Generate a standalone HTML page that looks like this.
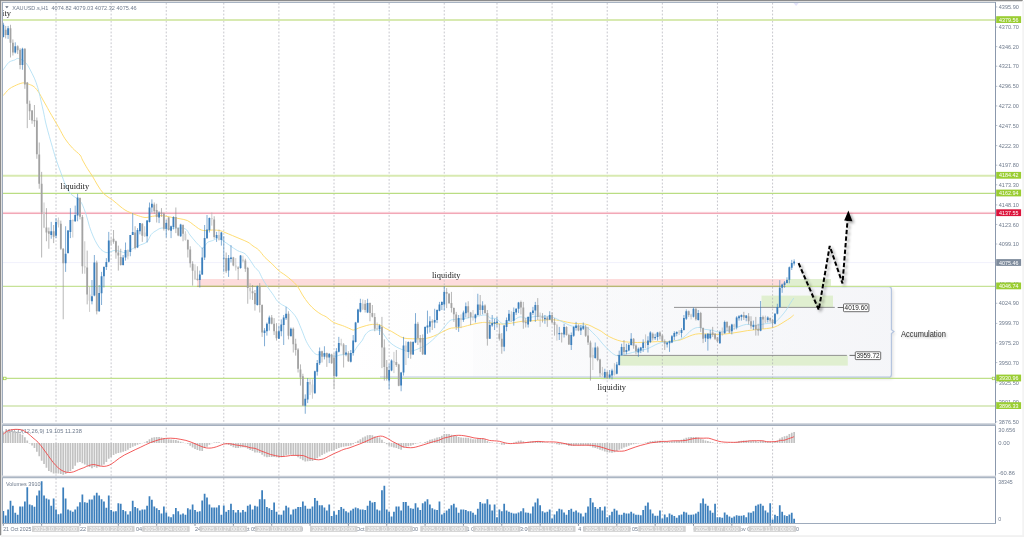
<!DOCTYPE html>
<html lang="en">
<head>
<meta charset="utf-8">
<title>XAUUSD.s H1 chart</title>
<style>
html,body{margin:0;padding:0;background:#ffffff;}
body{width:1024px;height:537px;overflow:hidden;font-family:'Liberation Sans',sans-serif;}
svg{display:block;}
text{white-space:pre;}
</style>
</head>
<body>
<svg width="1024" height="537" viewBox="0 0 1024 537" style="display:block">
<defs>
<linearGradient id="acc" gradientUnits="userSpaceOnUse" x1="340" x2="892" y1="0" y2="0"><stop offset="0" stop-color="#f5f6f9" stop-opacity="0"/><stop offset="0.3" stop-color="#f5f6f9" stop-opacity="0.2"/><stop offset="1" stop-color="#f5f6fa" stop-opacity="0.5"/></linearGradient>
<linearGradient id="acc2" gradientUnits="userSpaceOnUse" x1="473" x2="892" y1="0" y2="0"><stop offset="0" stop-color="#f6f7f9" stop-opacity="0.3"/><stop offset="1" stop-color="#f4f5f8" stop-opacity="0.9"/></linearGradient>
<linearGradient id="accs" gradientUnits="userSpaceOnUse" x1="340" x2="892" y1="0" y2="0"><stop offset="0" stop-color="#b9c9e2" stop-opacity="0"/><stop offset="0.45" stop-color="#b9c9e2" stop-opacity="0.25"/><stop offset="0.9" stop-color="#b9c9e2" stop-opacity="0.9"/><stop offset="1" stop-color="#b4c4df" stop-opacity="1"/></linearGradient>
<linearGradient id="sep" x1="0" x2="0" y1="0" y2="1"><stop offset="0" stop-color="#dfe2e7"/><stop offset="1" stop-color="#98a5b6"/></linearGradient>
<filter id="sh" x="-20%" y="-20%" width="150%" height="150%"><feGaussianBlur in="SourceAlpha" stdDeviation="1.6"/><feOffset dx="1.8" dy="1.8"/><feComponentTransfer><feFuncA type="linear" slope="0.38"/></feComponentTransfer><feMerge><feMergeNode/><feMergeNode in="SourceGraphic"/></feMerge></filter>
<filter id="sh2" x="-20%" y="-50%" width="150%" height="220%"><feGaussianBlur in="SourceAlpha" stdDeviation="0.9"/><feOffset dx="0.9" dy="0.9"/><feComponentTransfer><feFuncA type="linear" slope="0.3"/></feComponentTransfer><feMerge><feMergeNode/><feMergeNode in="SourceGraphic"/></feMerge></filter>
<filter id="sh3" x="-5%" y="-10%" width="112%" height="125%"><feGaussianBlur in="SourceAlpha" stdDeviation="1.5"/><feOffset dx="1.6" dy="1.6"/><feComponentTransfer><feFuncA type="linear" slope="0.11"/></feComponentTransfer></filter>
<clipPath id="main"><rect x="3" y="3" width="992" height="421"/></clipPath>
</defs>
<rect width="1024" height="537" fill="#ffffff"/>
<g id="frame">
<rect x="0" y="0" width="1022.7" height="0.95" fill="#808080"/>
<rect x="0" y="0" width="0.95" height="535.3" fill="#808080"/>
<rect x="0.95" y="0.95" width="1.1" height="534" fill="#e0e0e0"/>
<rect x="0.95" y="0.95" width="1021.5" height="1.1" fill="#dedede"/>
<rect x="1022.3" y="1" width="1.7" height="536" fill="#f3f3f3"/>
<rect x="1" y="535.2" width="1023" height="1.8" fill="#f1f1f1"/>
</g>
<g id="zones" clip-path="url(#main)">
<path d="M 600 286.6 H 888.6 Q 891.4 286.6 891.4 289.4 V 329.7 L 893.9 331.6 L 891.4 333.5 V 374.5 Q 891.4 377.3 888.6 377.3 H 600 Z" fill="#000" filter="url(#sh3)"/>
<path d="M 600 286.6 H 888.6 Q 891.4 286.6 891.4 289.4 V 329.7 L 893.9 331.6 L 891.4 333.5 V 374.5 Q 891.4 377.3 888.6 377.3 H 600 Z" fill="#ffffff"/>
<path d="M 340 286.6 H 888.6 Q 891.4 286.6 891.4 289.4 V 329.7 L 893.9 331.6 L 891.4 333.5 V 374.5 Q 891.4 377.3 888.6 377.3 H 340 Z" fill="url(#acc)"/>
<path d="M 473 286.6 H 888.6 Q 891.4 286.6 891.4 289.4 V 329.7 L 893.9 331.6 L 891.4 333.5 V 374.5 Q 891.4 377.3 888.6 377.3 H 473 Z" fill="url(#acc2)"/>
<path d="M 340 286.6 H 888.6 Q 891.4 286.6 891.4 289.4 V 329.7 L 893.9 331.6 L 891.4 333.5 V 374.5 Q 891.4 377.3 888.6 377.3 H 340" fill="none" stroke="url(#accs)" stroke-width="1.2"/>
<line x1="380" y1="377" x2="889" y2="377" stroke="#c9d4e9" stroke-width="1.3" stroke-opacity="0.85"/>
<rect x="197.1" y="279" width="588.5" height="8.1" fill="#fddcdc"/>
<rect x="786.2" y="279" width="44.8" height="7.2" fill="#e0efd0"/>
<rect x="761.5" y="295.6" width="71.5" height="11.5" fill="#e0efd0"/>
<rect x="620" y="355.6" width="227.8" height="10" fill="#e0efd0"/>
</g>
<g id="vgrid" stroke="#a4a4ad" stroke-width="0.62" stroke-dasharray="1.8 1.7965" fill="none">
<line x1="56.02" y1="2.8" x2="56.02" y2="423"/>
<line x1="56.02" y1="427.6" x2="56.02" y2="476"/>
<line x1="56.02" y1="478" x2="56.02" y2="522.5"/>
<line x1="111.14" y1="2.8" x2="111.14" y2="423"/>
<line x1="111.14" y1="427.6" x2="111.14" y2="476"/>
<line x1="111.14" y1="478" x2="111.14" y2="522.5"/>
<line x1="166.26" y1="2.8" x2="166.26" y2="423"/>
<line x1="166.26" y1="427.6" x2="166.26" y2="476"/>
<line x1="166.26" y1="478" x2="166.26" y2="522.5"/>
<line x1="223.78" y1="2.8" x2="223.78" y2="423"/>
<line x1="223.78" y1="427.6" x2="223.78" y2="476"/>
<line x1="223.78" y1="478" x2="223.78" y2="522.5"/>
<line x1="278.9" y1="2.8" x2="278.9" y2="423"/>
<line x1="278.9" y1="427.6" x2="278.9" y2="476"/>
<line x1="278.9" y1="478" x2="278.9" y2="522.5"/>
<line x1="334.02" y1="2.8" x2="334.02" y2="423"/>
<line x1="334.02" y1="427.6" x2="334.02" y2="476"/>
<line x1="334.02" y1="478" x2="334.02" y2="522.5"/>
<line x1="389.14" y1="2.8" x2="389.14" y2="423"/>
<line x1="389.14" y1="427.6" x2="389.14" y2="476"/>
<line x1="389.14" y1="478" x2="389.14" y2="522.5"/>
<line x1="444.26" y1="2.8" x2="444.26" y2="423"/>
<line x1="444.26" y1="427.6" x2="444.26" y2="476"/>
<line x1="444.26" y1="478" x2="444.26" y2="522.5"/>
<line x1="496.98" y1="2.8" x2="496.98" y2="423"/>
<line x1="496.98" y1="427.6" x2="496.98" y2="476"/>
<line x1="496.98" y1="478" x2="496.98" y2="522.5"/>
<line x1="552.1" y1="2.8" x2="552.1" y2="423"/>
<line x1="552.1" y1="427.6" x2="552.1" y2="476"/>
<line x1="552.1" y1="478" x2="552.1" y2="522.5"/>
<line x1="607.22" y1="2.8" x2="607.22" y2="423"/>
<line x1="607.22" y1="427.6" x2="607.22" y2="476"/>
<line x1="607.22" y1="478" x2="607.22" y2="522.5"/>
<line x1="662.34" y1="2.8" x2="662.34" y2="423"/>
<line x1="662.34" y1="427.6" x2="662.34" y2="476"/>
<line x1="662.34" y1="478" x2="662.34" y2="522.5"/>
<line x1="717.46" y1="2.8" x2="717.46" y2="423"/>
<line x1="717.46" y1="427.6" x2="717.46" y2="476"/>
<line x1="717.46" y1="478" x2="717.46" y2="522.5"/>
<line x1="772.58" y1="2.8" x2="772.58" y2="423"/>
<line x1="772.58" y1="427.6" x2="772.58" y2="476"/>
<line x1="772.58" y1="478" x2="772.58" y2="522.5"/>
</g>
<g id="hlines" fill="none">
<line x1="3" y1="262.6" x2="995" y2="262.6" stroke="#ececfa" stroke-width="0.8"/>
<line x1="3" y1="20.05" x2="995" y2="20.05" stroke="#d8eab1" stroke-width="2.0"/>
<line x1="3" y1="175.75" x2="995" y2="175.75" stroke="#d8eab1" stroke-width="2.0"/>
<line x1="3" y1="193.4" x2="995" y2="193.4" stroke="#badd83" stroke-width="1.2"/>
<line x1="3" y1="286.3" x2="995" y2="286.3" stroke="#c6e297" stroke-width="1.25"/>
<line x1="3" y1="378.4" x2="995" y2="378.4" stroke="#bfe08a" stroke-width="1.1"/>
<line x1="3" y1="406.05" x2="995" y2="406.05" stroke="#dcebc3" stroke-width="1.9"/>
<rect x="3" y="211.85" width="992" height="1" fill="#f9d3da"/>
<rect x="3" y="212.8" width="992" height="1.25" fill="#f2a8b7"/>
<line x1="197.1" y1="286.3" x2="785.6" y2="286.3" stroke="#b9b774" stroke-width="1.2"/>
<rect x="3.5" y="377.2" width="2.5" height="2.5" fill="#ffffff" stroke="#a4d247" stroke-width="0.8"/>
<rect x="992.3" y="377.2" width="2.5" height="2.5" fill="#ffffff" stroke="#a4d247" stroke-width="0.8"/>
<line x1="674" y1="307.4" x2="834.8" y2="307.4" stroke="#7a7a7a" stroke-width="0.8"/>
<line x1="616.9" y1="355.4" x2="846.9" y2="355.4" stroke="#7a7a7a" stroke-width="0.8"/>
<line x1="837.7" y1="307.5" x2="843.6" y2="307.5" stroke="#444" stroke-width="0.8"/>
<line x1="849.5" y1="355.4" x2="855.4" y2="355.4" stroke="#444" stroke-width="0.8"/>
</g>
<g id="ma" fill="none" stroke-linejoin="round" clip-path="url(#main)">
<path d="M 3.2 95.6 C 4.13 94.55 6.9 90.92 8.8 89.3 C 10.7 87.68 12.25 86.97 14.6 85.9 C 16.95 84.83 20.45 83.15 22.9 82.9 C 25.35 82.65 27.42 83.73 29.3 84.4 C 31.18 85.07 32.58 85.52 34.2 86.9 C 35.82 88.28 37.53 90.52 39 92.7 C 40.47 94.88 41.77 97.8 43 100 C 44.23 102.2 45.23 103.82 46.4 105.9 C 47.57 107.98 47.94 108.9 50 112.5 C 52.06 116.1 56.25 123.12 58.75 127.5 C 61.25 131.88 62.71 135.32 65 138.75 C 67.29 142.18 70 145.39 72.5 148.1 C 75 150.81 78.33 153.02 80 155 C 81.67 156.98 81.25 157.71 82.5 160 C 83.75 162.29 85.83 166.04 87.5 168.75 C 89.17 171.46 90.83 173.54 92.5 176.25 C 94.17 178.96 95.62 182.08 97.5 185 C 99.38 187.92 101.25 191.25 103.75 193.75 C 106.25 196.25 109.79 197.92 112.5 200 C 115.21 202.08 117.92 204.58 120 206.25 C 122.08 207.92 123.33 208.96 125 210 C 126.67 211.04 128.12 211.67 130 212.5 C 131.88 213.33 133.75 214.17 136.25 215 C 138.75 215.83 142.29 217.29 145 217.5 C 147.71 217.71 150 216.57 152.5 216.25 C 155 215.93 157.71 215.6 160 215.6 C 162.29 215.6 164.17 215.93 166.25 216.25 C 168.33 216.57 170.21 217.08 172.5 217.5 C 174.79 217.92 177.5 218.23 180 218.75 C 182.5 219.27 185.21 219.56 187.5 220.6 C 189.79 221.64 191.67 223.53 193.75 225 C 195.83 226.47 198.12 228.47 200 229.4 C 201.88 230.33 202.92 230.5 205 230.6 C 207.08 230.7 210 230 212.5 230 C 215 230 217.92 230.18 220 230.6 C 222.08 231.02 222.92 231.67 225 232.5 C 227.08 233.33 230 234.56 232.5 235.6 C 235 236.64 237.42 237.64 240 238.75 C 242.58 239.86 245.83 241.04 248 242.25 C 250.17 243.46 251.21 244.71 253 246 C 254.79 247.29 256.75 248.08 258.75 250 C 260.75 251.92 262.92 255.32 265 257.5 C 267.08 259.68 268.96 260.92 271.25 263.1 C 273.54 265.28 276.46 268.62 278.75 270.6 C 281.04 272.58 282.92 273.43 285 275 C 287.08 276.57 289.17 278.12 291.25 280 C 293.33 281.88 295.62 283.75 297.5 286.25 C 299.38 288.75 300.62 292.08 302.5 295 C 304.38 297.92 306.67 301.25 308.75 303.75 C 310.83 306.25 312.92 308.23 315 310 C 317.08 311.77 319.38 313.25 321.25 314.4 C 323.12 315.55 324.17 315.55 326.25 316.9 C 328.33 318.25 331.04 321.05 333.75 322.5 C 336.46 323.95 339.79 324.56 342.5 325.6 C 345.21 326.64 348.12 328.02 350 328.75 C 351.88 329.48 352.08 330.21 353.75 330 C 355.42 329.79 357.92 328.23 360 327.5 C 362.08 326.77 364.17 326.12 366.25 325.6 C 368.33 325.08 370.21 324.5 372.5 324.4 C 374.79 324.3 377.92 324.38 380 325 C 382.08 325.62 383.12 327.06 385 328.1 C 386.88 329.14 389.17 330.1 391.25 331.25 C 393.33 332.4 395.42 333.86 397.5 335 C 399.58 336.14 401.25 337.48 403.75 338.1 C 406.25 338.73 409.38 338.64 412.5 338.75 C 415.62 338.86 419.58 338.96 422.5 338.75 C 425.42 338.54 427.5 338.23 430 337.5 C 432.5 336.77 435 335.55 437.5 334.4 C 440 333.25 442.71 331.65 445 330.6 C 447.29 329.55 448.75 328.62 451.25 328.1 C 453.75 327.58 457.29 327.92 460 327.5 C 462.71 327.08 465 326.23 467.5 325.6 C 470 324.98 472.5 324.27 475 323.75 C 477.5 323.23 480.62 322.71 482.5 322.5 C 484.38 322.29 484.58 322.4 486.25 322.5 C 487.92 322.6 490.21 322.85 492.5 323.1 C 494.79 323.35 497.5 323.89 500 324 C 502.5 324.11 505 324 507.5 323.75 C 510 323.5 512.5 322.92 515 322.5 C 517.5 322.08 520 321.5 522.5 321.25 C 525 321 527.5 321.17 530 321 C 532.5 320.83 535 320.42 537.5 320.25 C 540 320.08 542.5 320.08 545 320 C 547.5 319.92 550 319.65 552.5 319.75 C 555 319.85 557.5 320.18 560 320.6 C 562.5 321.02 565 321.77 567.5 322.25 C 570 322.73 572.5 323.25 575 323.5 C 577.5 323.75 580.21 323.5 582.5 323.75 C 584.79 324 586.67 324.27 588.75 325 C 590.83 325.73 592.92 327.06 595 328.1 C 597.08 329.14 599.38 330.1 601.25 331.25 C 603.12 332.4 604.17 333.75 606.25 335 C 608.33 336.25 611.25 337.71 613.75 338.75 C 616.25 339.79 618.75 340.69 621.25 341.25 C 623.75 341.81 626.04 341.89 628.75 342.1 C 631.46 342.31 634.38 342.5 637.5 342.5 C 640.62 342.5 644.17 342.25 647.5 342.1 C 650.83 341.95 654.17 341.7 657.5 341.6 C 660.83 341.5 664.58 341.67 667.5 341.5 C 670.42 341.33 672.92 340.85 675 340.6 C 677.08 340.35 678.12 340.52 680 340 C 681.88 339.48 684.17 338.33 686.25 337.5 C 688.33 336.67 690.42 335.62 692.5 335 C 694.58 334.38 696.25 333.9 698.75 333.75 C 701.25 333.6 704.38 333.99 707.5 334.1 C 710.62 334.21 714.58 334.42 717.5 334.4 C 720.42 334.38 722.5 334.22 725 334 C 727.5 333.78 730 333.45 732.5 333.1 C 735 332.75 737.5 332.32 740 331.9 C 742.5 331.48 745 330.96 747.5 330.6 C 750 330.24 752.5 330.02 755 329.75 C 757.5 329.48 760 329.27 762.5 329 C 765 328.73 767.92 328.45 770 328.1 C 772.08 327.75 773.33 327.52 775 326.9 C 776.67 326.28 778.33 325.34 780 324.4 C 781.67 323.46 783.33 322.3 785 321.25 C 786.67 320.2 788.54 319.14 790 318.1 C 791.46 317.06 793.12 315.52 793.75 315" stroke="#ffd964" stroke-width="0.9"/>
<path d="M 3.2 69.8 C 4.13 68.57 6.9 64.03 8.8 62.4 C 10.7 60.77 12.98 60.65 14.6 60 C 16.22 59.35 16.62 58.02 18.5 58.5 C 20.38 58.98 23.62 60.37 25.9 62.9 C 28.18 65.43 30.5 70.43 32.2 73.7 C 33.9 76.97 34.97 79.42 36.1 82.5 C 37.23 85.58 38.18 89.12 39 92.2 C 39.82 95.28 40.25 97.73 41 101 C 41.75 104.27 42.62 107.8 43.5 111.8 C 44.38 115.8 44.75 119.05 46.25 125 C 47.75 130.95 50.83 141.67 52.5 147.5 C 54.17 153.33 54.79 155.62 56.25 160 C 57.71 164.38 59.71 169.58 61.25 173.75 C 62.79 177.92 64.04 181.78 65.5 185 C 66.96 188.22 68.21 190.92 70 193.1 C 71.79 195.28 74.38 196.53 76.25 198.1 C 78.12 199.67 79.58 199.68 81.25 202.5 C 82.92 205.32 84.89 211.04 86.25 215 C 87.61 218.96 88.28 222.75 89.4 226.25 C 90.53 229.75 91.73 233.04 93 236 C 94.27 238.96 95.67 241.75 97 244 C 98.33 246.25 99.5 248.08 101 249.5 C 102.5 250.92 104.5 252.08 106 252.5 C 107.5 252.92 108.67 252.33 110 252 C 111.33 251.67 112.33 250.62 114 250.5 C 115.67 250.38 118.17 250.92 120 251.25 C 121.83 251.58 122.92 252.92 125 252.5 C 127.08 252.08 130.21 249.9 132.5 248.75 C 134.79 247.6 136.35 246.74 138.75 245.6 C 141.15 244.46 144.82 243.77 146.9 241.9 C 148.98 240.03 149.69 236.28 151.25 234.4 C 152.81 232.52 154.58 231.65 156.25 230.6 C 157.92 229.55 159.38 228.41 161.25 228.1 C 163.12 227.79 165.42 228.75 167.5 228.75 C 169.58 228.75 170.83 228.1 173.75 228.1 C 176.67 228.1 182.29 227.6 185 228.75 C 187.71 229.9 188.12 232.71 190 235 C 191.88 237.29 194.38 240.42 196.25 242.5 C 198.12 244.58 200.11 246.57 201.25 247.5 C 202.39 248.43 202.06 248.93 203.1 248.1 C 204.14 247.27 205.93 243.75 207.5 242.5 C 209.07 241.25 210.62 241.33 212.5 240.6 C 214.38 239.87 216.88 237.99 218.75 238.1 C 220.62 238.21 221.88 240 223.75 241.25 C 225.62 242.5 227.71 244.04 230 245.6 C 232.29 247.16 235 249.24 237.5 250.6 C 240 251.96 242.92 252.18 245 253.75 C 247.08 255.32 248.33 257.71 250 260 C 251.67 262.29 253.54 265.62 255 267.5 C 256.46 269.38 257.5 269.38 258.75 271.25 C 260 273.12 261.04 276.14 262.5 278.75 C 263.96 281.36 265.83 284.4 267.5 286.9 C 269.17 289.4 270.83 291.36 272.5 293.75 C 274.17 296.14 275.83 299.38 277.5 301.25 C 279.17 303.12 281.04 304.06 282.5 305 C 283.96 305.94 285 306.07 286.25 306.9 C 287.5 307.73 288.33 308.23 290 310 C 291.67 311.77 294.38 314.38 296.25 317.5 C 298.12 320.62 299.58 324.79 301.25 328.75 C 302.92 332.71 304.58 337.81 306.25 341.25 C 307.92 344.69 309.58 347.21 311.25 349.4 C 312.92 351.59 314.38 353.57 316.25 354.4 C 318.12 355.23 319.38 354.09 322.5 354.4 C 325.62 354.71 332.08 356.15 335 356.25 C 337.92 356.35 338.12 355.31 340 355 C 341.88 354.69 344.17 354.72 346.25 354.4 C 348.33 354.08 350.62 354.46 352.5 353.1 C 354.38 351.74 355.83 348.43 357.5 346.25 C 359.17 344.07 361.25 341.88 362.5 340 C 363.75 338.12 363.75 336.57 365 335 C 366.25 333.43 368.12 331.43 370 330.6 C 371.88 329.77 374.38 329.89 376.25 330 C 378.12 330.11 379.79 330.21 381.25 331.25 C 382.71 332.29 383.54 334.38 385 336.25 C 386.46 338.12 388.12 340.73 390 342.5 C 391.88 344.27 394.25 345.73 396.25 346.9 C 398.25 348.07 400.04 348.82 402 349.5 C 403.96 350.18 406 350.83 408 351 C 410 351.17 412 351 414 350.5 C 416 350 417.96 348.92 420 348 C 422.04 347.08 424.17 346.33 426.25 345 C 428.33 343.67 430.42 341.88 432.5 340 C 434.58 338.12 436.67 336.04 438.75 333.75 C 440.83 331.46 443.12 328.44 445 326.25 C 446.88 324.06 448.33 321.74 450 320.6 C 451.67 319.46 452.71 319.71 455 319.4 C 457.29 319.09 461.25 319.07 463.75 318.75 C 466.25 318.43 467.71 317.92 470 317.5 C 472.29 317.08 475.21 316.67 477.5 316.25 C 479.79 315.83 482 315.11 483.75 315 C 485.5 314.89 486.96 315.08 488 315.6 C 489.04 316.12 488.62 317.58 490 318.1 C 491.38 318.62 494.17 317.81 496.25 318.75 C 498.33 319.69 500.62 323.12 502.5 323.75 C 504.38 324.38 505.62 323.12 507.5 322.5 C 509.38 321.88 511.67 320.93 513.75 320 C 515.83 319.07 517.92 317.22 520 316.9 C 522.08 316.58 524.17 318.1 526.25 318.1 C 528.33 318.1 530.42 317.21 532.5 316.9 C 534.58 316.59 536.25 316.36 538.75 316.25 C 541.25 316.14 545 316.04 547.5 316.25 C 550 316.46 551.67 316.77 553.75 317.5 C 555.83 318.23 557.92 319.56 560 320.6 C 562.08 321.64 564.17 322.81 566.25 323.75 C 568.33 324.69 570.42 325.83 572.5 326.25 C 574.58 326.67 576.67 326.25 578.75 326.25 C 580.83 326.25 583.12 325.62 585 326.25 C 586.88 326.88 588.33 328.54 590 330 C 591.67 331.46 593.75 333.75 595 335 C 596.25 336.25 596.04 335.83 597.5 337.5 C 598.96 339.17 601.67 342.71 603.75 345 C 605.83 347.29 608.12 349.58 610 351.25 C 611.88 352.92 613.54 354.27 615 355 C 616.46 355.73 617.08 355.7 618.75 355.6 C 620.42 355.5 622.71 354.92 625 354.4 C 627.29 353.88 630 353.13 632.5 352.5 C 635 351.87 637.5 351.23 640 350.6 C 642.5 349.98 645 349.68 647.5 348.75 C 650 347.82 652.71 346.04 655 345 C 657.29 343.96 659.17 343.02 661.25 342.5 C 663.33 341.98 665.42 342.11 667.5 341.9 C 669.58 341.69 671.67 341.67 673.75 341.25 C 675.83 340.83 678.12 340.23 680 339.4 C 681.88 338.57 683.33 337.61 685 336.25 C 686.67 334.89 688.33 332.61 690 331.25 C 691.67 329.89 693.33 328.73 695 328.1 C 696.67 327.48 698.33 327.28 700 327.5 C 701.67 327.72 703.12 328.98 705 329.4 C 706.88 329.82 709.17 329.58 711.25 330 C 713.33 330.42 715.62 331.58 717.5 331.9 C 719.38 332.22 720.83 332.12 722.5 331.9 C 724.17 331.68 725.62 331.12 727.5 330.6 C 729.38 330.08 731.67 329.48 733.75 328.75 C 735.83 328.02 737.92 326.98 740 326.25 C 742.08 325.52 744.17 324.61 746.25 324.4 C 748.33 324.19 750.42 324.9 752.5 325 C 754.58 325.1 756.67 325.21 758.75 325 C 760.83 324.79 762.92 324.07 765 323.75 C 767.08 323.43 769.38 323.52 771.25 323.1 C 773.12 322.68 774.58 322.39 776.25 321.25 C 777.92 320.11 779.58 318.12 781.25 316.25 C 782.92 314.38 784.79 312.08 786.25 310 C 787.71 307.92 788.75 305.73 790 303.75 C 791.25 301.77 793.12 299.04 793.75 298.1" stroke="#a9dcf3" stroke-width="0.8"/>
</g>
<g id="candles" clip-path="url(#main)">
<path d="M44.04 202.5V228.12M58.42 217.5V227.5M72.8 219.38V237.5M84.78 241.25V273.75M89.57 286.88V311.88M111.14 237.5V245.62M127.92 249.38V259.38M144.69 226.25V236.88M185.43 231.25V240.62M195.02 264.38V280M211.8 212.5V225.62M218.99 229.38V240.62M235.76 258.12V270.62M242.95 255.62V262.5M250.14 283.12V299.38M310.05 378.75V395M312.45 379.38V398.75M341.21 338.75V346.25M362.78 299.38V310M377.15 322.5V330M393.93 351.88V373.12M405.91 341.25V365M461.03 314.38V328.12M473.01 310V320.62M511.36 311.25V321.88M540.12 312.5V326.88M556.89 323.75V340.62M592.84 347.5V370M602.42 366.88V376.25M614.41 363.12V375.62M645.56 334.38V348.12M679.11 330V335M691.1 313.75V319.38M722.25 327.5V335.62M734.23 323.75V330M765.39 315.62V323.12" stroke="#b0b0b0" stroke-width="0.65" fill="none"/>
<path d="M5.7 25.94V38.44M10.49 24.77V57.48M12.89 39.41V55.53M17.68 45.27V54.06M20.08 48.2V69.28M24.87 48.2V88.81M27.27 81.97V128.12M29.66 100.62V120M32.06 110V123.75M34.45 105V126.88M36.85 117.5V158.75M39.25 142.5V188.75M41.64 171.88V257.5M46.44 208.12V241.25M48.83 227.5V248.75M53.63 225V243.12M60.82 220.62V250M63.21 248.12V319.25M79.99 197.5V219.38M82.38 215V273.75M87.18 250.62V304.38M96.76 260.62V314.38M113.54 230V243.75M115.94 240.62V258.75M118.33 245.62V270.62M120.73 248.75V265.62M135.11 226.25V249.38M142.3 223.12V241.88M154.28 202.5V213.75M156.68 203.75V222.5M161.47 208.12V216.88M163.87 212.5V230.62M168.66 216.88V230.62M175.85 207.5V233.12M178.24 227.5V236.25M183.04 224.38V241.25M187.83 239.38V257.5M190.23 246.25V267.5M192.62 261.25V285.62M197.42 266.25V280.62M214.19 216.25V238.75M226.17 252.5V273.12M233.36 256.88V266.25M238.16 266.25V280M245.35 258.75V271.88M247.74 266.88V303.75M252.54 285V300M254.93 290V310.62M259.73 283.12V312.5M262.12 304.38V336.88M271.71 315V324.38M274.1 318.12V335M276.5 323.12V340.62M288.48 311.25V339.38M293.28 327.5V352.5M295.67 338.75V355.62M298.07 348.12V372.5M300.47 364.38V385.62M302.86 373.75V405.62M322.03 350.62V362.5M326.83 352.5V366.88M331.62 353.75V363.75M334.02 353.12V388.75M343.6 343.12V367.5M348.4 351.25V361.88M365.17 300V312.5M369.96 302.5V321.25M372.36 305V317.5M374.76 313.12V331.25M381.95 316.88V368.12M384.34 339.38V380.62M386.74 360V380.62M396.33 350V366.88M398.72 363.75V386.25M410.71 341.25V358.75M417.89 321.88V345M420.29 335V351.88M422.69 334.38V355M432.27 319.38V330M446.65 288.12V308.12M449.05 293.12V303.75M451.45 291.88V312.5M453.84 307.5V321.88M456.24 311.88V330M468.22 301.25V318.12M470.62 311.88V325M480.2 295V315M485 304.38V313.75M487.39 310V345.62M499.38 323.75V340.62M501.77 333.12V353.75M520.94 300.62V314.38M523.34 301.88V328.75M525.74 318.12V327.5M537.72 298.12V320M542.51 313.12V322.5M547.31 316.25V326.88M552.1 312.5V323.12M554.5 318.12V335.62M561.68 332.5V342.5M566.48 326.25V335.62M568.87 333.75V345M578.46 324.38V331.25M585.65 325V336.88M588.05 326.88V345M590.44 340.62V380.62M597.63 346.25V361.25M600.03 358.75V376.88M607.22 371.25V378.75M623.99 340V354.38M633.58 338.12V348.75M635.98 344.38V354.38M652.75 332.5V340.62M659.94 331.25V339.38M662.34 334.38V341.88M664.73 339.38V350M688.7 310.62V316.88M695.89 308.12V320.62M700.68 311.88V331.88M703.08 327.5V343.12M712.66 326.88V336.88M715.06 333.12V340M717.46 336.88V342.5M727.04 321.25V331.25M729.44 325.62V333.12M743.82 311.88V320M748.61 313.12V324.38M751.01 316.25V328.75M755.8 316.88V335.62M758.2 323.75V335.62M762.99 315.62V328.75M770.18 317.5V322.5M772.58 318.75V327.5" stroke="#8f8f8f" stroke-width="0.65" fill="none"/>
<path d="M3.3 22.81V37.46M8.09 25.94V38.93M15.28 42.34V53.57M22.47 47.71V69.77M51.23 221.88V238.75M56.02 218.12V238.12M65.61 226.25V271.88M68.01 230V253.75M70.4 208.12V238.12M75.19 205.62V221.88M77.59 193.75V221.25M91.97 280V304.38M94.37 255V296.25M99.16 285V311.88M101.56 271.88V305M103.95 266.25V287.5M106.35 258.12V270M108.75 231.88V262.5M123.12 255V265.62M125.52 242.5V260.62M130.31 235V256.25M132.71 213.12V235M137.5 228.12V248.12M139.9 223.12V234.38M147.09 220V242.5M149.49 202.5V222.5M151.88 199.38V212.5M159.07 211.25V223.12M166.26 220V237.5M171.06 225.62V238.12M173.45 216.25V229.38M180.64 223.75V236.88M199.81 270.62V287.5M202.21 247.5V275M204.61 225V260M207 215V238.75M209.4 217.5V232.5M216.59 231.88V241.88M221.38 231.88V245.62M223.78 236.2V271.88M228.57 255V276.88M230.97 245.1V262.5M240.55 255V268.75M257.33 285.62V305.62M264.52 328.12V346.25M266.92 322.5V335.62M269.31 315.62V330.62M278.9 325.62V338.75M281.29 319.38V336.25M283.69 315V345M286.09 306.88V320M290.88 327.5V336.25M305.26 394.38V413.75M307.66 378.12V403.12M314.85 370.62V393.75M317.24 360V375.62M319.64 347.5V365M324.43 346.25V359.38M329.22 353.12V363.12M336.41 348.12V376.88M338.81 336.88V352.5M346 345V356.25M350.79 350V362.5M353.19 335V355.62M355.59 321.88V342.5M357.98 308.75V323.12M360.38 298.75V312.5M367.57 298.75V313.12M379.55 324.38V335M389.14 363.75V389.38M391.53 359.38V371.25M401.12 371.88V391.25M403.52 336.88V375.62M408.31 341.25V358.12M413.1 341.25V355M415.5 313.12V343.12M425.08 326.25V355M427.48 310.62V333.75M429.88 316.25V332.5M434.67 308.75V328.12M437.07 309.38V323.12M439.46 301.88V311.25M441.86 301.25V310M444.26 286.25V310.62M458.64 315V331.88M463.43 310.62V321.88M465.82 302.5V317.5M475.41 313.75V322.5M477.81 293.75V315.62M482.6 301.25V314.38M489.79 320V338.75M492.19 315V326.88M494.58 318.75V330M496.98 316.88V326.88M504.17 325V351.25M506.57 317.5V331.25M508.96 310V321.25M513.75 307.5V325.62M516.15 308.12V315M518.55 301.88V313.12M528.13 316.25V327.5M530.53 311.88V321.88M532.93 306.88V315M535.32 301.88V321.88M544.91 315V323.75M549.7 311.25V320M559.29 326.88V340M564.08 323.75V337.5M571.27 332.5V350M573.67 326.25V336.88M576.06 321.88V330.62M580.86 325V335M583.25 322.5V330M595.24 342.5V358.75M604.82 368.75V378.12M609.61 370V378.75M612.01 368.75V379.38M616.8 361.88V374.38M619.2 350.62V365.62M621.6 343.75V355.62M626.39 343.75V354.38M628.79 343.12V351.25M631.18 333.12V345.62M638.37 347.5V356.88M640.77 346.88V353.12M643.17 339.38V351.88M647.96 336.25V352.5M650.36 331.25V343.12M655.15 333.75V340M657.54 331.88V340.62M667.13 341.88V347.5M669.53 340.62V351.88M671.92 335V343.12M674.32 331.25V340M676.72 331.25V336.25M681.51 328.12V337.5M683.91 315V330.62M686.3 309.38V320M693.49 307.5V317.5M698.28 310V320.62M705.47 333.75V341.88M707.87 333.12V350.62M710.27 330V339.38M719.85 330.62V343.75M724.65 320.62V333.75M731.84 323.75V334.38M736.63 316.25V329.38M739.03 315V320.62M741.42 314.38V320.62M746.22 315V321.25M753.4 320.62V330M760.59 301V331.25M767.78 316.25V322.5M774.97 313.12V324.38M777.37 303.8V314.4M779.77 280.1V307.5M782.16 283.6V292.8M784.56 281V287.7M786.96 277.3V283.5M789.35 266.5V283.3M791.75 259.9V270M794.14 259.3V265.6" stroke="#3f82be" stroke-width="0.65" fill="none"/>
<path d="M43.14 212.5h1.8v15h-1.8zM57.52 220h1.8v4.38h-1.8zM71.9 220h1.8v1.25h-1.8zM83.88 266.25h1.8v1.25h-1.8zM88.67 294.38h1.8v6.25h-1.8zM110.24 240.62h1.8v3.12h-1.8zM127.02 250h1.8v6.25h-1.8zM143.79 232.5h1.8v3.75h-1.8zM184.53 233.75h1.8v6.25h-1.8zM194.12 270.62h1.8v8.75h-1.8zM210.9 218.12h1.8v1.25h-1.8zM218.09 235h1.8v5h-1.8zM234.86 265.62h1.8v1.88h-1.8zM242.05 259.38h1.8v1.88h-1.8zM249.24 288.12h1.8v3.12h-1.8zM309.15 381.88h1.8v2.5h-1.8zM311.55 384.38h1.8v8.12h-1.8zM340.31 343.12h1.8v1.88h-1.8zM361.88 303.75h1.8v5.62h-1.8zM376.25 328.12h1.8v1.25h-1.8zM393.03 361.25h1.8v1.25h-1.8zM405.01 345.62h1.8v6.25h-1.8zM460.13 318.12h1.8v1.88h-1.8zM472.11 316.25h1.8v1.25h-1.8zM510.46 314.38h1.8v6.88h-1.8zM539.22 315.62h1.8v1.25h-1.8zM555.99 325h1.8v9.38h-1.8zM591.94 355h1.8v2.5h-1.8zM601.52 373.12h1.8v1.88h-1.8zM613.51 370.62h1.8v4.38h-1.8zM644.66 341.88h1.8v1.25h-1.8zM678.21 331.79h1.8v0.8h-1.8zM690.2 314.38h1.8v2.5h-1.8zM721.35 331.25h1.8v2.5h-1.8zM733.33 324.38h1.8v2.5h-1.8zM764.49 316.88h1.8v5.62h-1.8z" fill="#cfcfcf"/>
<path d="M4.8 29.65h1.8v5.37h-1.8zM9.59 28.18h1.8v14.65h-1.8zM11.99 42.83h1.8v9.77h-1.8zM16.78 46.25h1.8v3.91h-1.8zM19.18 49.67h1.8v15.21h-1.8zM23.97 48.69h1.8v35.72h-1.8zM26.37 82.46h1.8v21.29h-1.8zM28.76 103.75h1.8v7.5h-1.8zM31.16 110.62h1.8v10h-1.8zM33.55 120h1.8v1.25h-1.8zM35.95 120.62h1.8v33.75h-1.8zM38.35 154.38h1.8v29.38h-1.8zM40.74 183.75h1.8v28.75h-1.8zM45.54 227.5h1.8v5h-1.8zM47.93 231.25h1.8v2.5h-1.8zM52.73 231.25h1.8v5.62h-1.8zM59.92 223.75h1.8v25h-1.8zM62.31 248.75h1.8v14.38h-1.8zM79.09 198.12h1.8v18.75h-1.8zM81.48 216.88h1.8v49.38h-1.8zM86.28 267.5h1.8v26.88h-1.8zM95.86 262.5h1.8v48.75h-1.8zM112.64 238.75h1.8v3.12h-1.8zM115.04 241.25h1.8v11.25h-1.8zM117.43 252.5h1.8v3.12h-1.8zM119.83 256.88h1.8v8.12h-1.8zM134.21 232.5h1.8v15.62h-1.8zM141.4 223.75h1.8v11.88h-1.8zM153.38 204.38h1.8v6.88h-1.8zM155.78 210h1.8v6.88h-1.8zM160.57 212.5h1.8v1.25h-1.8zM162.97 213.75h1.8v15h-1.8zM167.76 217.5h1.8v12.5h-1.8zM174.95 216.88h1.8v11.25h-1.8zM177.34 228.12h1.8v7.5h-1.8zM182.14 225h1.8v8.75h-1.8zM186.93 240h1.8v9.38h-1.8zM189.33 249.38h1.8v13.75h-1.8zM191.72 263.75h1.8v6.88h-1.8zM196.52 278.75h1.8v1.25h-1.8zM213.29 219.38h1.8v17.5h-1.8zM225.27 258.12h1.8v13.12h-1.8zM232.46 257.5h1.8v8.12h-1.8zM237.26 267.5h1.8v1.25h-1.8zM244.45 260.62h1.8v8.12h-1.8zM246.84 268.12h1.8v20h-1.8zM251.64 291.25h1.8v1.88h-1.8zM254.03 293.12h1.8v11.25h-1.8zM258.83 286.25h1.8v18.75h-1.8zM261.22 305h1.8v27.5h-1.8zM270.81 317.5h1.8v6.25h-1.8zM273.2 323.75h1.8v7.5h-1.8zM275.6 331.25h1.8v6.88h-1.8zM287.58 313.75h1.8v21.88h-1.8zM292.38 328.75h1.8v15.62h-1.8zM294.77 343.75h1.8v6.25h-1.8zM297.17 349.38h1.8v19.38h-1.8zM299.57 369.38h1.8v8.12h-1.8zM301.96 376.25h1.8v29.38h-1.8zM321.13 351.25h1.8v5.62h-1.8zM325.93 353.12h1.8v4.38h-1.8zM330.72 354.38h1.8v8.75h-1.8zM333.12 357.5h1.8v18.75h-1.8zM342.7 344.38h1.8v10h-1.8zM347.5 353.12h1.8v8.12h-1.8zM364.27 303.75h1.8v6.25h-1.8zM369.06 303.12h1.8v10h-1.8zM371.46 313.12h1.8v3.75h-1.8zM373.86 316.88h1.8v11.88h-1.8zM381.05 326.88h1.8v20.62h-1.8zM383.44 347.5h1.8v19.38h-1.8zM385.84 366.88h1.8v11.25h-1.8zM395.43 361.88h1.8v3.12h-1.8zM397.82 364.38h1.8v21.25h-1.8zM409.81 341.88h1.8v12.5h-1.8zM416.99 323.75h1.8v14.38h-1.8zM419.39 338.12h1.8v4.38h-1.8zM421.79 338.12h1.8v16.25h-1.8zM431.37 321.25h1.8v1.25h-1.8zM445.75 291.88h1.8v1.88h-1.8zM448.15 293.75h1.8v9.38h-1.8zM450.55 303.12h1.8v5h-1.8zM452.94 308.12h1.8v6.25h-1.8zM455.34 314.38h1.8v12.5h-1.8zM467.32 306.25h1.8v6.25h-1.8zM469.72 312.5h1.8v4.38h-1.8zM479.3 304.38h1.8v5.62h-1.8zM484.1 305.62h1.8v7.5h-1.8zM486.49 313.12h1.8v25.62h-1.8zM498.48 333.75h1.8v5h-1.8zM500.87 338.75h1.8v8.12h-1.8zM520.04 301.88h1.8v5.62h-1.8zM522.44 307.5h1.8v15h-1.8zM524.84 321.88h1.8v1.25h-1.8zM536.82 305h1.8v11.88h-1.8zM541.61 316.25h1.8v1.88h-1.8zM546.41 317.5h1.8v2.5h-1.8zM551.2 315h1.8v7.5h-1.8zM553.6 321.88h1.8v3.12h-1.8zM560.78 333.12h1.8v1.25h-1.8zM565.58 326.88h1.8v8.12h-1.8zM567.97 335h1.8v9.38h-1.8zM577.56 325.62h1.8v5h-1.8zM584.75 326.88h1.8v8.75h-1.8zM587.15 335.62h1.8v6.88h-1.8zM589.54 342.5h1.8v15h-1.8zM596.73 347.5h1.8v12.5h-1.8zM599.13 359.38h1.8v13.75h-1.8zM606.32 371.88h1.8v6.25h-1.8zM623.09 346.88h1.8v5h-1.8zM632.68 338.75h1.8v6.88h-1.8zM635.08 345.62h1.8v5.62h-1.8zM651.85 333.75h1.8v4.38h-1.8zM659.04 332.5h1.8v3.75h-1.8zM661.44 335.62h1.8v5.62h-1.8zM663.83 341.25h1.8v2.5h-1.8zM687.8 311.25h1.8v3.75h-1.8zM694.99 308.75h1.8v10.62h-1.8zM699.78 313.12h1.8v15h-1.8zM702.18 328.12h1.8v10.62h-1.8zM711.76 332.5h1.8v2.5h-1.8zM714.16 333.75h1.8v5h-1.8zM716.56 337.5h1.8v3.75h-1.8zM726.14 321.88h1.8v5.62h-1.8zM728.54 326.25h1.8v6.25h-1.8zM742.92 315h1.8v2.5h-1.8zM747.71 316.25h1.8v5h-1.8zM750.11 321.25h1.8v5h-1.8zM754.9 325h1.8v4.38h-1.8zM757.3 328.75h1.8v1.88h-1.8zM762.09 316.88h1.8v2.5h-1.8zM769.28 318.12h1.8v2.5h-1.8zM771.68 320h1.8v3.12h-1.8z" fill="#a3a3a3"/>
<path d="M2.4 24.77h1.8v12.21h-1.8zM7.19 28.18h1.8v6.84h-1.8zM14.38 46.25h1.8v6.35h-1.8zM21.57 48.69h1.8v16.19h-1.8zM50.33 231.25h1.8v3.75h-1.8zM55.12 221.88h1.8v13.75h-1.8zM64.71 253.75h1.8v9.38h-1.8zM67.11 230.62h1.8v22.5h-1.8zM69.5 220h1.8v11.88h-1.8zM74.29 215h1.8v6.25h-1.8zM76.69 197.5h1.8v18.12h-1.8zM91.07 296.25h1.8v5h-1.8zM93.47 262.5h1.8v33.12h-1.8zM98.26 293.12h1.8v18.12h-1.8zM100.66 276.25h1.8v16.88h-1.8zM103.05 266.88h1.8v9.38h-1.8zM105.45 261.88h1.8v5h-1.8zM107.85 240.62h1.8v21.25h-1.8zM122.22 257.5h1.8v7.5h-1.8zM124.62 250h1.8v7.5h-1.8zM129.41 235h1.8v16.88h-1.8zM131.81 231.88h1.8v3.12h-1.8zM136.6 230h1.8v17.5h-1.8zM139 223.12h1.8v8.12h-1.8zM146.19 220.62h1.8v15.62h-1.8zM148.59 207.5h1.8v14.38h-1.8zM150.98 203.75h1.8v3.75h-1.8zM158.17 212.5h1.8v5h-1.8zM165.36 223.12h1.8v5.62h-1.8zM170.16 226.25h1.8v4.38h-1.8zM172.55 216.88h1.8v10h-1.8zM179.74 224.38h1.8v11.88h-1.8zM198.91 274.38h1.8v5.62h-1.8zM201.31 257.5h1.8v16.88h-1.8zM203.71 238.12h1.8v19.38h-1.8zM206.1 229.38h1.8v8.75h-1.8zM208.5 218.12h1.8v11.88h-1.8zM215.69 235h1.8v3.12h-1.8zM220.48 232.5h1.8v7.5h-1.8zM222.88 257.7h1.8v0.8h-1.8zM227.67 258.12h1.8v12.5h-1.8zM230.07 257.5h1.8v1.4h-1.8zM239.65 255.62h1.8v12.5h-1.8zM256.43 286.25h1.8v18.75h-1.8zM263.62 330.62h1.8v2.5h-1.8zM266.02 323.75h1.8v7.5h-1.8zM268.41 317.5h1.8v6.25h-1.8zM278 331.25h1.8v7.5h-1.8zM280.39 324.38h1.8v6.88h-1.8zM282.79 317.5h1.8v7.5h-1.8zM285.19 313.75h1.8v4.38h-1.8zM289.98 328.75h1.8v7.5h-1.8zM304.36 398.75h1.8v6.88h-1.8zM306.76 381.88h1.8v17.5h-1.8zM313.95 371.25h1.8v21.88h-1.8zM316.34 363.12h1.8v8.75h-1.8zM318.74 351.25h1.8v11.88h-1.8zM323.53 353.12h1.8v3.75h-1.8zM328.32 353.75h1.8v3.75h-1.8zM335.51 351.25h1.8v25h-1.8zM337.91 343.12h1.8v8.75h-1.8zM345.1 352.5h1.8v1.88h-1.8zM349.89 353.12h1.8v8.75h-1.8zM352.29 340.62h1.8v12.5h-1.8zM354.69 322.5h1.8v19.38h-1.8zM357.08 309.38h1.8v13.12h-1.8zM359.48 303.12h1.8v8.75h-1.8zM366.67 303.12h1.8v9.38h-1.8zM378.65 325.62h1.8v3.75h-1.8zM388.24 370h1.8v10.62h-1.8zM390.63 360.62h1.8v10h-1.8zM400.22 372.5h1.8v13.12h-1.8zM402.62 345.62h1.8v26.88h-1.8zM407.41 341.88h1.8v10h-1.8zM412.2 341.88h1.8v12.5h-1.8zM414.6 323.75h1.8v18.75h-1.8zM424.18 326.88h1.8v27.5h-1.8zM426.58 325.62h1.8v1.88h-1.8zM428.98 321.25h1.8v5.62h-1.8zM433.77 320h1.8v2.5h-1.8zM436.17 310h1.8v10h-1.8zM438.56 304.38h1.8v6.25h-1.8zM440.96 301.88h1.8v3.12h-1.8zM443.36 291.88h1.8v12.5h-1.8zM457.74 318.12h1.8v8.75h-1.8zM462.53 312.5h1.8v7.5h-1.8zM464.92 306.25h1.8v6.88h-1.8zM474.51 314.38h1.8v3.75h-1.8zM476.91 304.38h1.8v10.62h-1.8zM481.7 305.62h1.8v4.38h-1.8zM488.89 325h1.8v13.75h-1.8zM491.29 323.12h1.8v2.5h-1.8zM493.68 321.88h1.8v1.88h-1.8zM496.08 321.5h1.8v1.62h-1.8zM503.27 325.62h1.8v21.25h-1.8zM505.67 320h1.8v6.88h-1.8zM508.06 313.75h1.8v6.88h-1.8zM512.85 311.88h1.8v8.75h-1.8zM515.25 308.75h1.8v3.75h-1.8zM517.65 302.5h1.8v6.25h-1.8zM527.23 316.88h1.8v7.5h-1.8zM529.63 312.5h1.8v8.75h-1.8zM532.03 310.62h1.8v2.5h-1.8zM534.42 305h1.8v5.62h-1.8zM544.01 317.75h1.8v1.62h-1.8zM548.8 315h1.8v4.38h-1.8zM558.39 333.12h1.8v1.25h-1.8zM563.18 326.88h1.8v7.5h-1.8zM570.37 335h1.8v10h-1.8zM572.77 326.88h1.8v8.75h-1.8zM575.16 325.62h1.8v2.5h-1.8zM579.96 327.5h1.8v3.12h-1.8zM582.35 326.25h1.8v2.5h-1.8zM594.34 347.5h1.8v10.62h-1.8zM603.92 371.88h1.8v5.62h-1.8zM608.71 374.38h1.8v3.12h-1.8zM611.11 370.62h1.8v5h-1.8zM615.9 364.38h1.8v9.38h-1.8zM618.3 355h1.8v10h-1.8zM620.7 346.88h1.8v8.12h-1.8zM625.49 350h1.8v1.88h-1.8zM627.89 345h1.8v5.62h-1.8zM630.28 338.75h1.8v6.25h-1.8zM637.47 348.75h1.8v3.75h-1.8zM639.87 347.5h1.8v3.12h-1.8zM642.27 342.5h1.8v5.62h-1.8zM647.06 340.62h1.8v4.38h-1.8zM649.46 332.5h1.8v9.38h-1.8zM654.25 336.88h1.8v1.25h-1.8zM656.64 332.5h1.8v4.38h-1.8zM666.23 342.5h1.8v1.88h-1.8zM668.63 341.25h1.8v1.88h-1.8zM671.02 336.25h1.8v6.25h-1.8zM673.42 333.12h1.8v3.75h-1.8zM675.82 331.88h1.8v1.88h-1.8zM680.61 330h1.8v3.12h-1.8zM683.01 318.12h1.8v11.88h-1.8zM685.4 311.25h1.8v7.5h-1.8zM692.59 308.75h1.8v8.12h-1.8zM697.38 313.12h1.8v6.88h-1.8zM704.57 334.38h1.8v3.75h-1.8zM706.97 333.75h1.8v5h-1.8zM709.37 333.75h1.8v4.38h-1.8zM718.95 331.88h1.8v11.25h-1.8zM723.75 321.88h1.8v11.25h-1.8zM730.94 324.38h1.8v6.88h-1.8zM735.73 317.5h1.8v10h-1.8zM738.13 316.25h1.8v1.88h-1.8zM740.52 315h1.8v1.88h-1.8zM745.32 315.62h1.8v2.5h-1.8zM752.5 325h1.8v1.88h-1.8zM759.69 316.88h1.8v13.75h-1.8zM766.88 317.5h1.8v2.5h-1.8zM774.07 313.75h1.8v10h-1.8zM776.47 307h1.8v6.75h-1.8zM778.87 287.7h1.8v19.6h-1.8zM781.26 284.5h1.8v3.2h-1.8zM783.66 282.6h1.8v2.3h-1.8zM786.06 280.1h1.8v2.9h-1.8zM788.45 267.2h1.8v12.6h-1.8zM790.85 263.1h1.8v4.7h-1.8zM793.25 261.5h1.8v1.9h-1.8z" fill="#3c7fbc"/>
</g>
<g id="proj" filter="url(#sh)">
<path d="M 798.6 263.2 L 818.8 309.8 L 829.7 246 L 842.5 283.5 L 847.6 219.5" fill="none" stroke="#000" stroke-width="2.0" stroke-dasharray="4.4 2.2" stroke-linejoin="miter"/>
<path d="M 848.4 210.6 L 852.4 221.2 L 844.2 220.6 Z" fill="#000"/>
</g>
<g id="labels" font-family="'Liberation Serif', serif" fill="#1a1a1a" clip-path="url(#main)">
<text x="-17.6" y="16" font-size="8.8" textLength="28.6" lengthAdjust="spacingAndGlyphs">liquidity</text>
<text x="60.6" y="189" font-size="8.8" textLength="28.6" lengthAdjust="spacingAndGlyphs">liquidity</text>
<text x="432" y="277.6" font-size="8.8" textLength="28.6" lengthAdjust="spacingAndGlyphs">liquidity</text>
<text x="597.5" y="389.7" font-size="8.8" textLength="28.6" lengthAdjust="spacingAndGlyphs">liquidity</text>
</g>
<g stroke="#ffffff" stroke-opacity="0.6" stroke-width="0.9" stroke-dasharray="1.8 1.7965" fill="none">
<line x1="444.26" y1="269.5" x2="444.26" y2="280.5" stroke-dashoffset="0.56"/>
<line x1="607.22" y1="381.5" x2="607.22" y2="392.5" stroke-dashoffset="1.07"/>
</g>
<text x="901.1" y="336.8" font-family="'Liberation Sans', sans-serif" font-size="8.3" fill="#333333" filter="url(#sh2)" textLength="44.8" lengthAdjust="spacingAndGlyphs">Accumulation</text>
<rect x="843.5" y="303.9" width="25.4" height="7.8" rx="0.8" fill="#ffffff" stroke="#4a4a4a" stroke-width="0.8"/>
<text x="856.2" y="310.15" font-family="'Liberation Sans', sans-serif" font-size="6.6" fill="#222" text-anchor="middle" textLength="23.2" lengthAdjust="spacingAndGlyphs">4019.60</text>
<rect x="855.3" y="351.8" width="25.4" height="7.8" rx="0.8" fill="#ffffff" stroke="#4a4a4a" stroke-width="0.8"/>
<text x="868" y="358.05" font-family="'Liberation Sans', sans-serif" font-size="6.6" fill="#222" text-anchor="middle" textLength="23.2" lengthAdjust="spacingAndGlyphs">3959.72</text>
<path d="M793.5 3 h5.2 l-2.6 3.1 z" fill="#e4e4fa"/>
<path d="M 5.2 6.2 h 3.4 l -1.7 2.1 z" fill="#5b6677"/>
<text x="12.2" y="9.7" font-family="'Liberation Sans', sans-serif" font-size="5.6" fill="#6f7b8d" textLength="124.4" lengthAdjust="spacingAndGlyphs" xml:space="preserve">XAUUSD.s,H1  4074.82 4079.03 4072.32 4075.46</text>
<g id="macd">
<text x="5.2" y="433" font-family="'Liberation Sans', sans-serif" font-size="5.6" fill="#6f7b8d" textLength="76.6" lengthAdjust="spacingAndGlyphs">MACD(12,26,9) 19.105 11.238</text>
<path d="M3.3 442.95V431.52M5.7 442.95V430.89M8.09 442.95V430.63M10.49 442.95V430.63M12.89 442.95V430.89M15.28 442.95V431.14M17.68 442.95V431.52M20.08 442.95V433.43M22.47 442.95V434.7M24.87 442.95V437.23M27.27 442.95V440.41M29.66 442.95V443.58M32.06 442.95V445.49M34.45 442.95V448.03M36.85 442.95V451.83M39.25 442.95V456.28M41.64 442.95V460.72M44.04 442.95V463.89M46.44 442.95V467.7M48.83 442.95V470.88M51.23 442.95V472.15M53.63 442.95V473.42M56.02 442.95V473.42M58.42 442.95V473.42M60.82 442.95V474.05M63.21 442.95V474.69M65.61 442.95V474.05M68.01 442.95V472.15M70.4 442.95V470.88M72.8 442.95V468.97M75.19 442.95V465.8M77.59 442.95V462.62M79.99 442.95V461.99M82.38 442.95V463.26M84.78 442.95V464.53M87.18 442.95V465.8M89.57 442.95V467.07M91.97 442.95V468.34M94.37 442.95V467.07M96.76 442.95V467.7M99.16 442.95V466.43M101.56 442.95V465.8M103.95 442.95V464.53M106.35 442.95V461.99M108.75 442.95V458.82M111.14 442.95V456.91M113.54 442.95V455.01M115.94 442.95V453.74M118.33 442.95V453.1M120.73 442.95V452.47M123.12 442.95V451.83M125.52 442.95V450.95M127.92 442.95V449.68M130.31 442.95V448.03M132.71 442.95V446.76M135.11 442.95V445.87M137.5 442.95V444.85M139.9 442.95V443.84M142.3 442.95V443.33M144.69 442.95V442.57M147.09 442.95V441.04M149.49 442.95V439.14M151.88 442.95V437.87M154.28 442.95V437.23M156.68 442.95V436.98M159.07 442.95V436.98M161.47 442.95V437.49M163.87 442.95V438.25M166.26 442.95V438.76M168.66 442.95V439.14M171.06 442.95V439.52M173.45 442.95V439.77M175.85 442.95V440.03M178.24 442.95V440.79M180.64 442.95V441.68M183.04 442.95V442.57M185.43 442.95V443.3M187.83 442.95V443.84M190.23 442.95V445.87M192.62 442.95V447.39M195.02 442.95V448.91M197.42 442.95V449.93M199.81 442.95V450.69M202.21 442.95V450.95M204.61 442.95V448.03M207 442.95V446.76M209.4 442.95V444.85M211.8 442.95V443.33M214.19 442.95V442.6M216.59 442.95V442.31M218.99 442.95V442.31M221.38 442.95V443.3M223.78 442.95V443.58M226.17 442.95V444.22M228.57 442.95V445.11M230.97 442.95V446.12M233.36 442.95V447.14M235.76 442.95V448.03M238.16 442.95V448.03M240.55 442.95V447.39M242.95 442.95V447.14M245.35 442.95V447.39M247.74 442.95V448.66M250.14 442.95V449.93M252.54 442.95V450.95M254.93 442.95V452.47M257.33 442.95V452.47M259.73 442.95V453.1M262.12 442.95V454.75M264.52 442.95V456.53M266.92 442.95V457.29M269.31 442.95V457.04M271.71 442.95V457.04M274.1 442.95V457.04M276.5 442.95V457.29M278.9 442.95V457.55M281.29 442.95V457.29M283.69 442.95V456.28M286.09 442.95V455.26M288.48 442.95V454.75M290.88 442.95V454.75M293.28 442.95V455.26M295.67 442.95V456.02M298.07 442.95V457.29M300.47 442.95V458.82M302.86 442.95V460.34M305.26 442.95V461.61M307.66 442.95V461.36M310.05 442.95V461.1M312.45 442.95V461.1M314.85 442.95V459.83M317.24 442.95V458.18M319.64 442.95V456.53M322.03 442.95V455.01M324.43 442.95V453.74M326.83 442.95V452.47M329.22 442.95V451.45M331.62 442.95V450.95M334.02 442.95V450.18M336.41 442.95V448.91M338.81 442.95V448.03M341.21 442.95V447.14M343.6 442.95V446.76M346 442.95V446.37M348.4 442.95V446.12M350.79 442.95V445.49M353.19 442.95V444.22M355.59 442.95V442.31M357.98 442.95V440.79M360.38 442.95V439.14M362.78 442.95V437.49M365.17 442.95V436.6M367.57 442.95V435.33M369.96 442.95V434.95M372.36 442.95V435.33M374.76 442.95V436.6M377.15 442.95V437.23M379.55 442.95V437.49M381.95 442.95V439.77M384.34 442.95V442.31M386.74 442.95V444.22M389.14 442.95V445.87M391.53 442.95V446.76M393.93 442.95V447.39M396.33 442.95V448.03M398.72 442.95V448.91M401.12 442.95V449.68M403.52 442.95V447.39M405.91 442.95V446.76M408.31 442.95V446.37M410.71 442.95V445.87M413.1 442.95V444.85M415.5 442.95V443.84M417.89 442.95V443.3M420.29 442.95V442.57M422.69 442.95V443.3M425.08 442.95V442.06M427.48 442.95V441.04M429.88 442.95V439.77M432.27 442.95V439.14M434.67 442.95V438.5M437.07 442.95V437.49M439.46 442.95V436.98M441.86 442.95V435.71M444.26 442.95V434.06M446.65 442.95V434.06M449.05 442.95V434.06M451.45 442.95V434.7M453.84 442.95V435.33M456.24 442.95V435.96M458.64 442.95V436.98M461.03 442.95V437.49M463.43 442.95V437.87M465.82 442.95V437.87M468.22 442.95V437.87M470.62 442.95V438.5M473.01 442.95V439.14M475.41 442.95V439.14M477.81 442.95V438.5M480.2 442.95V438.5M482.6 442.95V438.5M485 442.95V439.14M487.39 442.95V441.04M489.79 442.95V442.31M492.19 442.95V442.57M494.58 442.95V443.3M496.98 442.95V443.3M499.38 442.95V443.58M501.77 442.95V444.85M504.17 442.95V444.85M506.57 442.95V443.58M508.96 442.95V443.33M511.36 442.95V443.3M513.75 442.95V442.57M516.15 442.95V441.68M518.55 442.95V440.79M520.94 442.95V440.41M523.34 442.95V441.3M525.74 442.95V442.06M528.13 442.95V441.68M530.53 442.95V441.3M532.93 442.95V441.3M535.32 442.95V441.04M537.72 442.95V441.04M540.12 442.95V441.3M542.51 442.95V442.06M544.91 442.95V442.57M547.31 442.95V442.6M549.7 442.95V443.3M552.1 442.95V443.3M554.5 442.95V443.58M556.89 442.95V444.22M559.29 442.95V444.85M561.68 442.95V444.6M564.08 442.95V444.6M566.48 442.95V445.11M568.87 442.95V446.12M571.27 442.95V446.12M573.67 442.95V446.12M576.06 442.95V445.49M578.46 442.95V445.49M580.86 442.95V445.49M583.25 442.95V445.49M585.65 442.95V445.49M588.05 442.95V445.87M590.44 442.95V446.37M592.84 442.95V447.39M595.24 442.95V448.03M597.63 442.95V448.66M600.03 442.95V449.68M602.42 442.95V450.56M604.82 442.95V451.45M607.22 442.95V452.21M609.61 442.95V452.47M612.01 442.95V452.72M614.41 442.95V452.21M616.8 442.95V450.95M619.2 442.95V449.68M621.6 442.95V448.66M623.99 442.95V447.39M626.39 442.95V446.76M628.79 442.95V445.87M631.18 442.95V444.85M633.58 442.95V444.22M635.98 442.95V443.84M638.37 442.95V443.58M640.77 442.95V443.33M643.17 442.95V443.3M645.56 442.95V442.57M647.96 442.95V442.06M650.36 442.95V441.3M652.75 442.95V441.04M655.15 442.95V440.79M657.54 442.95V440.79M659.94 442.95V440.79M662.34 442.95V441.04M664.73 442.95V441.3M667.13 442.95V441.68M669.53 442.95V441.68M671.92 442.95V441.3M674.32 442.95V441.04M676.72 442.95V440.79M679.11 442.95V440.41M681.51 442.95V439.77M683.91 442.95V438.76M686.3 442.95V437.87M688.7 442.95V437.23M691.1 442.95V436.98M693.49 442.95V436.98M695.89 442.95V436.98M698.28 442.95V437.49M700.68 442.95V438.5M703.08 442.95V439.52M705.47 442.95V440.41M707.87 442.95V441.04M710.27 442.95V441.68M712.66 442.95V442.31M715.06 442.95V443.3M717.46 442.95V443.33M719.85 442.95V443.58M722.25 442.95V443.33M724.65 442.95V443.3M727.04 442.95V443.3M729.44 442.95V442.57M731.84 442.95V442.57M734.23 442.95V442.31M736.63 442.95V441.68M739.03 442.95V441.04M741.42 442.95V440.79M743.82 442.95V440.41M746.22 442.95V440.41M748.61 442.95V440.41M751.01 442.95V440.79M753.4 442.95V440.79M755.8 442.95V441.04M758.2 442.95V441.68M760.59 442.95V440.79M762.99 442.95V440.79M765.39 442.95V441.3M767.78 442.95V441.68M770.18 442.95V441.68M772.58 442.95V441.68M774.97 442.95V441.04M777.37 442.95V440.41M779.77 442.95V438.5M782.16 442.95V437.23M784.56 442.95V436.22M786.96 442.95V435.71M789.35 442.95V434.06M791.75 442.95V432.79M794.14 442.95V431.9" stroke="#c2c2c2" stroke-width="1.7" fill="none"/>
<path d="M 3.3 434.1 C 4.02 433.57 6.03 431.65 7.6 430.9 C 9.17 430.15 11 429.85 12.7 429.6 C 14.4 429.35 16.1 429.28 17.8 429.4 C 19.5 429.52 21.22 429.63 22.9 430.3 C 24.58 430.97 26.22 432.13 27.9 433.4 C 29.58 434.67 31.3 436.42 33 437.9 C 34.7 439.38 36.4 440.5 38.1 442.3 C 39.8 444.1 41.52 446.48 43.2 448.7 C 44.88 450.92 46.52 453.28 48.2 455.6 C 49.88 457.92 51.6 460.53 53.3 462.6 C 55 464.67 56.7 466.55 58.4 468 C 60.1 469.45 61.8 470.55 63.5 471.3 C 65.2 472.05 66.92 472.42 68.6 472.5 C 70.28 472.58 71.92 472.28 73.6 471.8 C 75.28 471.32 77 470.28 78.7 469.6 C 80.4 468.92 82.1 468.38 83.8 467.7 C 85.5 467.02 87.22 466.03 88.9 465.5 C 90.58 464.97 92.22 464.45 93.9 464.5 C 95.58 464.55 97.3 465.48 99 465.8 C 100.7 466.12 102.4 466.5 104.1 466.4 C 105.8 466.3 107.5 465.93 109.2 465.2 C 110.9 464.47 112.62 463.17 114.3 462 C 115.98 460.83 117.62 459.37 119.3 458.2 C 120.98 457.03 122.6 456 124.4 455 C 126.2 454 128.3 453.08 130.1 452.2 C 131.9 451.32 133.52 450.5 135.2 449.7 C 136.88 448.9 138.52 448.2 140.2 447.4 C 141.88 446.6 143.6 445.7 145.3 444.9 C 147 444.1 148.7 443.28 150.4 442.6 C 152.1 441.92 153.82 441.35 155.5 440.8 C 157.18 440.25 158.82 439.7 160.5 439.3 C 162.18 438.9 163.9 438.58 165.6 438.4 C 167.3 438.22 169 438.18 170.7 438.2 C 172.4 438.22 174.1 438.3 175.8 438.5 C 177.5 438.7 179.22 439.08 180.9 439.4 C 182.58 439.72 184.22 439.95 185.9 440.4 C 187.58 440.85 189.3 441.47 191 442.1 C 192.7 442.73 194.4 443.48 196.1 444.2 C 197.8 444.92 199.52 445.78 201.2 446.4 C 202.88 447.02 204.52 447.63 206.2 447.9 C 207.88 448.17 209.6 448.18 211.3 448 C 213 447.82 214.7 447.32 216.4 446.8 C 218.1 446.28 220.02 445.4 221.5 444.9 C 222.98 444.4 223.82 443.98 225.3 443.8 C 226.78 443.62 228.7 443.62 230.4 443.8 C 232.1 443.98 233.82 444.6 235.5 444.9 C 237.18 445.2 238.82 445.35 240.5 445.6 C 242.18 445.85 243.9 446.03 245.6 446.4 C 247.3 446.77 249.12 447.47 250.7 447.8 C 252.28 448.13 253.52 447.93 255.1 448.4 C 256.68 448.87 258.52 449.92 260.2 450.6 C 261.88 451.28 263.52 451.87 265.2 452.5 C 266.88 453.13 268.6 453.88 270.3 454.4 C 272 454.92 273.7 455.25 275.4 455.6 C 277.1 455.95 278.82 456.38 280.5 456.5 C 282.18 456.62 283.82 456.47 285.5 456.3 C 287.18 456.13 288.9 455.65 290.6 455.5 C 292.3 455.35 293.58 455.38 295.7 455.4 C 297.82 455.42 301.18 455.2 303.3 455.6 C 305.42 456 306.7 457.22 308.4 457.8 C 310.1 458.38 311.8 458.77 313.5 459.1 C 315.2 459.43 316.92 459.85 318.6 459.8 C 320.28 459.75 321.92 459.38 323.6 458.8 C 325.28 458.22 327 457.15 328.7 456.3 C 330.4 455.45 332.1 454.5 333.8 453.7 C 335.5 452.9 337.22 452.23 338.9 451.5 C 340.58 450.77 342.22 449.88 343.9 449.3 C 345.58 448.72 347.3 448.53 349 448 C 350.7 447.47 352.4 446.73 354.1 446.1 C 355.8 445.47 357.5 444.87 359.2 444.2 C 360.9 443.53 362.62 442.83 364.3 442.1 C 365.98 441.37 367.62 440.57 369.3 439.8 C 370.98 439.03 372.82 438.08 374.4 437.5 C 375.98 436.92 377.43 436.5 378.8 436.3 C 380.17 436.1 381.12 435.93 382.6 436.3 C 384.08 436.67 386 437.6 387.7 438.5 C 389.4 439.4 391.1 440.75 392.8 441.7 C 394.5 442.65 396.22 443.35 397.9 444.2 C 399.58 445.05 401.22 446.23 402.9 446.8 C 404.58 447.37 406.3 447.47 408 447.6 C 409.7 447.73 411.4 447.8 413.1 447.6 C 414.8 447.4 416.52 446.85 418.2 446.4 C 419.88 445.95 421.52 445.42 423.2 444.9 C 424.88 444.38 426.6 443.83 428.3 443.3 C 430 442.77 431.7 442.18 433.4 441.7 C 435.1 441.22 436.8 440.98 438.5 440.4 C 440.2 439.82 441.92 438.77 443.6 438.2 C 445.28 437.63 446.92 437.42 448.6 437 C 450.28 436.58 452 435.98 453.7 435.7 C 455.4 435.42 457.1 435.3 458.8 435.3 C 460.5 435.3 462.22 435.48 463.9 435.7 C 465.58 435.92 467.22 436.23 468.9 436.6 C 470.58 436.97 472.3 437.58 474 437.9 C 475.7 438.22 477.4 438.35 479.1 438.5 C 480.8 438.65 482.5 438.48 484.2 438.8 C 485.9 439.12 487.62 440.07 489.3 440.4 C 490.98 440.73 492.62 440.65 494.3 440.8 C 495.98 440.95 497.6 440.95 499.4 441.3 C 501.2 441.65 503.3 442.52 505.1 442.9 C 506.9 443.28 508.52 443.53 510.2 443.6 C 511.88 443.67 513.08 443.42 515.2 443.3 C 517.32 443.18 520.35 443.1 522.9 442.9 C 525.45 442.7 527.97 442.35 530.5 442.1 C 533.03 441.85 535.57 441.43 538.1 441.4 C 540.63 441.37 543.17 441.82 545.7 441.9 C 548.23 441.98 550.97 441.78 553.3 441.9 C 555.63 442.02 557.58 442.28 559.7 442.6 C 561.82 442.92 563.88 443.38 566 443.8 C 568.12 444.22 569.87 444.87 572.4 445.1 C 574.93 445.33 578.45 445.18 581.2 445.2 C 583.95 445.22 586.78 445.13 588.9 445.2 C 591.02 445.27 592.22 445.38 593.9 445.6 C 595.58 445.82 597.3 446.1 599 446.5 C 600.7 446.9 602.4 447.47 604.1 448 C 605.8 448.53 607.5 449.22 609.2 449.7 C 610.9 450.18 612.62 450.65 614.3 450.9 C 615.98 451.15 617.62 451.2 619.3 451.2 C 620.98 451.2 622.6 451.28 624.4 450.9 C 626.2 450.52 628.3 449.53 630.1 448.9 C 631.9 448.27 633.52 447.67 635.2 447.1 C 636.88 446.53 638.52 445.98 640.2 445.5 C 641.88 445.02 643.6 444.63 645.3 444.2 C 647 443.77 648.7 443.22 650.4 442.9 C 652.1 442.58 653.6 442.55 655.5 442.3 C 657.4 442.05 659.9 441.55 661.8 441.4 C 663.7 441.25 665 441.5 666.9 441.4 C 668.8 441.3 671.08 440.9 673.2 440.8 C 675.32 440.7 677.48 440.87 679.6 440.8 C 681.72 440.73 684 440.68 685.9 440.4 C 687.8 440.12 689.08 439.47 691 439.1 C 692.92 438.73 695.28 438.35 697.4 438.2 C 699.52 438.05 701.8 438.2 703.7 438.2 C 705.6 438.2 707.1 437.93 708.8 438.2 C 710.5 438.47 712.22 439.28 713.9 439.8 C 715.58 440.32 717.22 440.92 718.9 441.3 C 720.58 441.68 722.08 441.93 724 442.1 C 725.92 442.27 728.28 442.27 730.4 442.3 C 732.52 442.33 734.8 442.4 736.7 442.3 C 738.6 442.2 740.1 441.87 741.8 441.7 C 743.5 441.53 745.5 441.45 746.9 441.3 C 748.3 441.15 748.6 440.9 750.2 440.8 C 751.8 440.7 754.38 440.7 756.5 440.7 C 758.62 440.7 761.2 440.63 762.9 440.8 C 764.6 440.97 765.23 441.55 766.7 441.7 C 768.17 441.85 770.02 441.75 771.7 441.7 C 773.38 441.65 775.32 441.62 776.8 441.4 C 778.28 441.18 779.33 440.6 780.6 440.4 C 781.87 440.2 783.13 440.47 784.4 440.2 C 785.67 439.93 786.92 439.25 788.2 438.8 C 789.48 438.35 791.12 437.87 792.1 437.5 C 793.08 437.13 793.77 436.75 794.1 436.6" stroke="#f04a4a" stroke-width="0.9" fill="none" stroke-linejoin="round"/>
</g>
<g id="vol">
<path d="M3.3 522.9V510.92M5.7 522.9V515.49M8.09 522.9V509.39M10.49 522.9V500.76M12.89 522.9V505.63M15.28 522.9V512.74M17.68 522.9V514.77M20.08 522.9V506.45M22.47 522.9V506.45M24.87 522.9V501.57M27.27 522.9V487.35M29.66 522.9V504.62M32.06 522.9V505.23M34.45 522.9V506.85M36.85 522.9V495.48M39.25 522.9V490.4M41.64 522.9V481.26M44.04 522.9V495.48M46.44 522.9V498.52M48.83 522.9V499.54M51.23 522.9V505.63M53.63 522.9V498.52M56.02 522.9V509.39M58.42 522.9V514.27M60.82 522.9V513.45M63.21 522.9V487.56M65.61 522.9V498.52M68.01 522.9V509.39M70.4 522.9V510.41M72.8 522.9V511.73M75.19 522.9V509.39M77.59 522.9V506.45M79.99 522.9V502.28M82.38 522.9V494.46M84.78 522.9V502.28M87.18 522.9V502.79M89.57 522.9V499.54M91.97 522.9V499.54M94.37 522.9V495.48M96.76 522.9V492.63M99.16 522.9V495.48M101.56 522.9V499.16M103.95 522.9V501.45M106.35 522.9V507.67M108.75 522.9V495.48M111.14 522.9V509.95M113.54 522.9V511.47M115.94 522.9V511.22M118.33 522.9V503.35M120.73 522.9V503.86M123.12 522.9V509.95M125.52 522.9V511.22M127.92 522.9V514.39M130.31 522.9V511.22M132.71 522.9V500.68M135.11 522.9V506.9M137.5 522.9V508.17M139.9 522.9V510.59M142.3 522.9V509.44M144.69 522.9V509.44M147.09 522.9V505.63M149.49 522.9V496.24M151.88 522.9V499.67M154.28 522.9V506.4M156.68 522.9V508.17M159.07 522.9V509.95M161.47 522.9V513.51M163.87 522.9V506.4M166.26 522.9V512.49M168.66 522.9V516.55M171.06 522.9V517.19M173.45 522.9V514.14M175.85 522.9V508.05M178.24 522.9V511.22M180.64 522.9V514.39M183.04 522.9V513.51M185.43 522.9V514.78M187.83 522.9V508.17M190.23 522.9V509.44M192.62 522.9V504.49M195.02 522.9V509.95M197.42 522.9V511.73M199.81 522.9V511.22M202.21 522.9V500.43M204.61 522.9V493.7M207 522.9V497.51M209.4 522.9V504.49M211.8 522.9V507.54M214.19 522.9V507.54M216.59 522.9V507.54M218.99 522.9V505.13M221.38 522.9V514.78M223.78 522.9V505.51M226.17 522.9V511.73M228.57 522.9V509.95M230.97 522.9V503.86M233.36 522.9V509.95M235.76 522.9V512.49M238.16 522.9V509.95M240.55 522.9V512.49M242.95 522.9V509.95M245.35 522.9V511.73M247.74 522.9V505.63M250.14 522.9V504.62M252.54 522.9V509.44M254.93 522.9V505.63M257.33 522.9V506.4M259.73 522.9V499.16M262.12 522.9V490.15M264.52 522.9V499.16M266.92 522.9V506.9M269.31 522.9V508.17M271.71 522.9V509.95M274.1 522.9V502.59M276.5 522.9V511.73M278.9 522.9V514.78M281.29 522.9V514.78M283.69 522.9V510.59M286.09 522.9V505.63M288.48 522.9V507.54M290.88 522.9V514.39M293.28 522.9V509.44M295.67 522.9V508.68M298.07 522.9V506.9M300.47 522.9V506.9M302.86 522.9V501.45M305.26 522.9V505.63M307.66 522.9V508.68M310.05 522.9V508.68M312.45 522.9V506.4M314.85 522.9V497.89M317.24 522.9V500.81M319.64 522.9V505.13M322.03 522.9V505.13M324.43 522.9V507.54M326.83 522.9V510.59M329.22 522.9V504.49M331.62 522.9V516.04M334.02 522.9V511.22M336.41 522.9V514.78M338.81 522.9V509.95M341.21 522.9V506.9M343.6 522.9V508.68M346 522.9V511.22M348.4 522.9V512.49M350.79 522.9V510.59M353.19 522.9V508.68M355.59 522.9V507.54M357.98 522.9V508.17M360.38 522.9V509.44M362.78 522.9V509.44M365.17 522.9V509.95M367.57 522.9V505.63M369.96 522.9V500.81M372.36 522.9V502.59M374.76 522.9V502.08M377.15 522.9V509.44M379.55 522.9V510.59M381.95 522.9V490.15M384.34 522.9V485.83M386.74 522.9V509.44M389.14 522.9V511.73M391.53 522.9V516.55M393.93 522.9V511.73M396.33 522.9V506.4M398.72 522.9V506.4M401.12 522.9V510.59M403.52 522.9V502.08M405.91 522.9V502.08M408.31 522.9V505.63M410.71 522.9V508.17M413.1 522.9V508.68M415.5 522.9V503.35M417.89 522.9V507.54M420.29 522.9V509.95M422.69 522.9V503.35M425.08 522.9V501.45M427.48 522.9V499.16M429.88 522.9V504.49M432.27 522.9V508.17M434.67 522.9V509.44M437.07 522.9V509.95M439.46 522.9V501.45M441.86 522.9V514.39M444.26 522.9V512.87M446.65 522.9V510.59M449.05 522.9V508.68M451.45 522.9V505.13M453.84 522.9V503.86M456.24 522.9V507.54M458.64 522.9V512.87M461.03 522.9V509.44M463.43 522.9V509.44M465.82 522.9V509.95M468.22 522.9V511.22M470.62 522.9V511.22M473.01 522.9V512.87M475.41 522.9V514.78M477.81 522.9V508.68M480.2 522.9V502.08M482.6 522.9V503.6M485 522.9V503.6M487.39 522.9V499.16M489.79 522.9V504.62M492.19 522.9V510.59M494.58 522.9V504.62M496.98 522.9V517.31M499.38 522.9V509.44M501.77 522.9V511.22M504.17 522.9V503.86M506.57 522.9V510.59M508.96 522.9V511.73M511.36 522.9V512.87M513.75 522.9V513.51M516.15 522.9V513.51M518.55 522.9V512.49M520.94 522.9V511.22M523.34 522.9V508.17M525.74 522.9V512.49M528.13 522.9V512.87M530.53 522.9V513.51M532.93 522.9V506.4M535.32 522.9V502.59M537.72 522.9V498.53M540.12 522.9V505.13M542.51 522.9V511.22M544.91 522.9V512.49M547.31 522.9V511.73M549.7 522.9V509.44M552.1 522.9V518.58M554.5 522.9V514.39M556.89 522.9V511.22M559.29 522.9V508.68M561.68 522.9V509.44M564.08 522.9V512.49M566.48 522.9V514.78M568.87 522.9V509.95M571.27 522.9V508.68M573.67 522.9V511.73M576.06 522.9V510.59M578.46 522.9V512.49M580.86 522.9V513.51M583.25 522.9V516.55M585.65 522.9V512.87M588.05 522.9V506.4M590.44 522.9V497.89M592.84 522.9V502.59M595.24 522.9V506.9M597.63 522.9V508.68M600.03 522.9V506.9M602.42 522.9V510.59M604.82 522.9V506.4M607.22 522.9V517.31M609.61 522.9V515.28M612.01 522.9V511.73M614.41 522.9V508.68M616.8 522.9V510.59M619.2 522.9V514.78M621.6 522.9V514.78M623.99 522.9V512.87M626.39 522.9V513.51M628.79 522.9V513.51M631.18 522.9V511.73M633.58 522.9V513.51M635.98 522.9V514.78M638.37 522.9V514.78M640.77 522.9V515.28M643.17 522.9V509.95M645.56 522.9V505.63M647.96 522.9V502.59M650.36 522.9V509.44M652.75 522.9V513.51M655.15 522.9V515.66M657.54 522.9V515.66M659.94 522.9V510.59M662.34 522.9V518.58M664.73 522.9V514.39M667.13 522.9V517.31M669.53 522.9V513.51M671.92 522.9V514.78M674.32 522.9V516.04M676.72 522.9V517.82M679.11 522.9V515.28M681.51 522.9V514.39M683.91 522.9V511.73M686.3 522.9V512.49M688.7 522.9V514.78M691.1 522.9V514.78M693.49 522.9V514.39M695.89 522.9V513.51M698.28 522.9V511.73M700.68 522.9V503.35M703.08 522.9V498.53M705.47 522.9V503.86M707.87 522.9V505.63M710.27 522.9V510.59M712.66 522.9V512.87M715.06 522.9V503.86M717.46 522.9V517.31M719.85 522.9V517.31M722.25 522.9V517.82M724.65 522.9V512.49M727.04 522.9V514.78M729.44 522.9V516.55M731.84 522.9V517.82M734.23 522.9V516.55M736.63 522.9V515.28M739.03 522.9V515.66M741.42 522.9V515.66M743.82 522.9V515.28M746.22 522.9V517.31M748.61 522.9V512.49M751.01 522.9V512.87M753.4 522.9V511.22M755.8 522.9V505.63M758.2 522.9V504.62M760.59 522.9V503.86M762.99 522.9V505.63M765.39 522.9V510.59M767.78 522.9V512.49M770.18 522.9V503.35M772.58 522.9V519.47M774.97 522.9V514.78M777.37 522.9V516.04M779.77 522.9V505.13M782.16 522.9V511.73M784.56 522.9V515.28M786.96 522.9V516.04M789.35 522.9V514.39M791.75 522.9V512.87M794.14 522.9V518.84" stroke="#3c7fbc" stroke-width="1.75" fill="none"/>
<text x="5.9" y="485.7" font-family="'Liberation Sans', sans-serif" font-size="5.6" fill="#6f7b8d" textLength="34.6" lengthAdjust="spacingAndGlyphs">Volumes 3910</text>
</g>
<g id="axis" font-family="'Liberation Sans', sans-serif" font-size="5.6" fill="#6f7b8d">
<text x="998.8" y="9" textLength="20" lengthAdjust="spacingAndGlyphs">4395.90</text>
<text x="998.8" y="29.13" textLength="20" lengthAdjust="spacingAndGlyphs">4370.70</text>
<text x="998.8" y="48.7" textLength="20" lengthAdjust="spacingAndGlyphs">4346.20</text>
<text x="998.8" y="68.27" textLength="20" lengthAdjust="spacingAndGlyphs">4321.70</text>
<text x="998.8" y="88.4" textLength="20" lengthAdjust="spacingAndGlyphs">4296.50</text>
<text x="998.8" y="107.97" textLength="20" lengthAdjust="spacingAndGlyphs">4272.00</text>
<text x="998.8" y="127.54" textLength="20" lengthAdjust="spacingAndGlyphs">4247.50</text>
<text x="998.8" y="147.67" textLength="20" lengthAdjust="spacingAndGlyphs">4222.30</text>
<text x="998.8" y="167.24" textLength="20" lengthAdjust="spacingAndGlyphs">4197.80</text>
<text x="998.8" y="186.81" textLength="20" lengthAdjust="spacingAndGlyphs">4173.30</text>
<text x="998.8" y="206.94" textLength="20" lengthAdjust="spacingAndGlyphs">4148.10</text>
<text x="998.8" y="226.51" textLength="20" lengthAdjust="spacingAndGlyphs">4123.60</text>
<text x="998.8" y="246.08" textLength="20" lengthAdjust="spacingAndGlyphs">4099.10</text>
<text x="998.8" y="266.21" textLength="20" lengthAdjust="spacingAndGlyphs">4073.90</text>
<text x="998.8" y="285.78" textLength="20" lengthAdjust="spacingAndGlyphs">4049.40</text>
<text x="998.8" y="305.35" textLength="20" lengthAdjust="spacingAndGlyphs">4024.90</text>
<text x="998.8" y="325.48" textLength="20" lengthAdjust="spacingAndGlyphs">3999.70</text>
<text x="998.8" y="345.05" textLength="20" lengthAdjust="spacingAndGlyphs">3975.20</text>
<text x="998.8" y="364.62" textLength="20" lengthAdjust="spacingAndGlyphs">3950.70</text>
<text x="998.8" y="384.75" textLength="20" lengthAdjust="spacingAndGlyphs">3925.50</text>
<text x="998.8" y="404.32" textLength="20" lengthAdjust="spacingAndGlyphs">3901.00</text>
<text x="998.8" y="423.89" textLength="20" lengthAdjust="spacingAndGlyphs">3876.50</text>
<text x="998.3" y="431.75" textLength="17.0" lengthAdjust="spacingAndGlyphs">30.656</text>
<text x="998.3" y="445.05" textLength="11.4" lengthAdjust="spacingAndGlyphs">0.00</text>
<text x="998.3" y="474.95" textLength="16.6" lengthAdjust="spacingAndGlyphs">-60.86</text>
<text x="998.3" y="484.05" textLength="14.4" lengthAdjust="spacingAndGlyphs">38345</text>
<text x="998.3" y="521.35" textLength="2.9" lengthAdjust="spacingAndGlyphs">0</text>
<path d="M996 6.95h1.3M996 27.08h1.3M996 46.65h1.3M996 66.22h1.3M996 86.35h1.3M996 105.92h1.3M996 125.49h1.3M996 145.62h1.3M996 165.19h1.3M996 184.76h1.3M996 204.89h1.3M996 224.46h1.3M996 244.03h1.3M996 264.16h1.3M996 283.73h1.3M996 303.3h1.3M996 323.43h1.3M996 343h1.3M996 362.57h1.3M996 382.7h1.3M996 402.27h1.3M996 421.84h1.3" stroke="#9eabbc" stroke-width="0.7" fill="none"/>
</g>
<g id="badges" font-family="'Liberation Sans', sans-serif" font-size="5.6" fill="#ffffff">
<rect x="996.2" y="16.2" width="24.9" height="6.8" fill="#9acd32"/>
<text x="999" y="21.6" textLength="19.4" lengthAdjust="spacingAndGlyphs">4379.56</text>
<rect x="996.2" y="171.9" width="24.9" height="6.8" fill="#9acd32"/>
<text x="999" y="177.3" textLength="19.4" lengthAdjust="spacingAndGlyphs">4184.42</text>
<rect x="996.2" y="189.6" width="24.9" height="6.8" fill="#9acd32"/>
<text x="999" y="195" textLength="19.4" lengthAdjust="spacingAndGlyphs">4162.94</text>
<rect x="996.2" y="209.3" width="24.9" height="6.8" fill="#dc143c"/>
<text x="999" y="214.7" textLength="19.4" lengthAdjust="spacingAndGlyphs">4137.55</text>
<rect x="996.2" y="259.1" width="24.9" height="6.8" fill="#7f8c9d"/>
<text x="999" y="264.5" textLength="19.4" lengthAdjust="spacingAndGlyphs">4075.46</text>
<rect x="996.2" y="282.5" width="24.9" height="6.8" fill="#9acd32"/>
<text x="999" y="287.9" textLength="19.4" lengthAdjust="spacingAndGlyphs">4046.74</text>
<rect x="996.2" y="374.6" width="24.9" height="6.8" fill="#9acd32"/>
<text x="999" y="380" textLength="19.4" lengthAdjust="spacingAndGlyphs">3930.96</text>
<rect x="996.2" y="402.2" width="24.9" height="6.8" fill="#9acd32"/>
<text x="999" y="407.6" textLength="19.4" lengthAdjust="spacingAndGlyphs">3896.33</text>
</g>
<g id="time" font-family="'Liberation Sans', sans-serif" font-size="5.6" fill="#6f7b8d">
<text x="3.2" y="530.9" textLength="28.2" lengthAdjust="spacingAndGlyphs">21 Oct 2025</text>
<text x="41.54" y="530.9" textLength="31.4" lengthAdjust="spacingAndGlyphs">21 Oct 18:00</text>
<text x="79.89" y="530.9" textLength="31.4" lengthAdjust="spacingAndGlyphs">22 Oct 11:00</text>
<text x="118.23" y="530.9" textLength="31.4" lengthAdjust="spacingAndGlyphs">23 Oct 04:00</text>
<text x="156.58" y="530.9" textLength="31.4" lengthAdjust="spacingAndGlyphs">23 Oct 20:00</text>
<text x="194.92" y="530.9" textLength="31.4" lengthAdjust="spacingAndGlyphs">24 Oct 13:00</text>
<text x="233.26" y="530.9" textLength="31.4" lengthAdjust="spacingAndGlyphs">27 Oct 05:00</text>
<text x="271.61" y="530.9" textLength="31.4" lengthAdjust="spacingAndGlyphs">27 Oct 21:00</text>
<text x="309.95" y="530.9" textLength="31.4" lengthAdjust="spacingAndGlyphs">28 Oct 14:00</text>
<text x="348.3" y="530.9" textLength="31.4" lengthAdjust="spacingAndGlyphs">29 Oct 07:00</text>
<text x="386.64" y="530.9" textLength="31.4" lengthAdjust="spacingAndGlyphs">29 Oct 23:00</text>
<text x="424.98" y="530.9" textLength="31.4" lengthAdjust="spacingAndGlyphs">30 Oct 16:00</text>
<text x="463.33" y="530.9" textLength="31.4" lengthAdjust="spacingAndGlyphs">31 Oct 09:00</text>
<text x="501.67" y="530.9" textLength="28.8" lengthAdjust="spacingAndGlyphs">3 Nov 03:00</text>
<text x="540.02" y="530.9" textLength="28.8" lengthAdjust="spacingAndGlyphs">3 Nov 19:00</text>
<text x="578.36" y="530.9" textLength="28.8" lengthAdjust="spacingAndGlyphs">4 Nov 12:00</text>
<text x="616.7" y="530.9" textLength="28.8" lengthAdjust="spacingAndGlyphs">5 Nov 05:00</text>
<text x="655.05" y="530.9" textLength="28.8" lengthAdjust="spacingAndGlyphs">5 Nov 21:00</text>
<text x="693.39" y="530.9" textLength="28.8" lengthAdjust="spacingAndGlyphs">6 Nov 14:00</text>
<text x="731.74" y="530.9" textLength="28.8" lengthAdjust="spacingAndGlyphs">7 Nov 07:00</text>
<text x="770.08" y="530.9" textLength="28.8" lengthAdjust="spacingAndGlyphs">7 Nov 23:00</text>
<path d="M3.3 523.6v2.2M41.64 523.6v2.2M79.99 523.6v2.2M118.33 523.6v2.2M156.68 523.6v2.2M195.02 523.6v2.2M233.36 523.6v2.2M271.71 523.6v2.2M310.05 523.6v2.2M348.4 523.6v2.2M386.74 523.6v2.2M425.08 523.6v2.2M463.43 523.6v2.2M501.77 523.6v2.2M540.12 523.6v2.2M578.46 523.6v2.2M616.8 523.6v2.2M655.15 523.6v2.2M693.49 523.6v2.2M731.84 523.6v2.2M770.18 523.6v2.2" stroke="#8492a6" stroke-width="1" fill="none"/>
</g>
<g id="tbadges" font-family="'Liberation Sans', sans-serif" font-size="5.6" fill="#ffffff">
<rect x="32.02" y="525.9" width="47.4" height="6" fill="#d2d2d2"/>
<text x="34.32" y="530.8" textLength="42.8" lengthAdjust="spacingAndGlyphs" fill-opacity="0.9">2025.10.22 00:00</text>
<rect x="87.14" y="525.9" width="47.4" height="6" fill="#d2d2d2"/>
<text x="89.44" y="530.8" textLength="42.8" lengthAdjust="spacingAndGlyphs" fill-opacity="0.9">2025.10.23 00:00</text>
<rect x="142.26" y="525.9" width="47.4" height="6" fill="#d2d2d2"/>
<text x="144.56" y="530.8" textLength="42.8" lengthAdjust="spacingAndGlyphs" fill-opacity="0.9">2025.10.24 00:00</text>
<rect x="199.78" y="525.9" width="47.4" height="6" fill="#d2d2d2"/>
<text x="202.08" y="530.8" textLength="42.8" lengthAdjust="spacingAndGlyphs" fill-opacity="0.9">2025.10.27 00:00</text>
<rect x="254.9" y="525.9" width="47.4" height="6" fill="#d2d2d2"/>
<text x="257.2" y="530.8" textLength="42.8" lengthAdjust="spacingAndGlyphs" fill-opacity="0.9">2025.10.28 00:00</text>
<rect x="310.02" y="525.9" width="47.4" height="6" fill="#d2d2d2"/>
<text x="312.32" y="530.8" textLength="42.8" lengthAdjust="spacingAndGlyphs" fill-opacity="0.9">2025.10.29 00:00</text>
<rect x="365.14" y="525.9" width="47.4" height="6" fill="#d2d2d2"/>
<text x="367.44" y="530.8" textLength="42.8" lengthAdjust="spacingAndGlyphs" fill-opacity="0.9">2025.10.30 00:00</text>
<rect x="420.26" y="525.9" width="47.4" height="6" fill="#d2d2d2"/>
<text x="422.56" y="530.8" textLength="42.8" lengthAdjust="spacingAndGlyphs" fill-opacity="0.9">2025.10.31 00:00</text>
<rect x="472.98" y="525.9" width="47.4" height="6" fill="#d2d2d2"/>
<text x="475.28" y="530.8" textLength="42.8" lengthAdjust="spacingAndGlyphs" fill-opacity="0.9">2025.11.03 00:00</text>
<rect x="528.1" y="525.9" width="47.4" height="6" fill="#d2d2d2"/>
<text x="530.4" y="530.8" textLength="42.8" lengthAdjust="spacingAndGlyphs" fill-opacity="0.9">2025.11.04 00:00</text>
<rect x="583.22" y="525.9" width="47.4" height="6" fill="#d2d2d2"/>
<text x="585.52" y="530.8" textLength="42.8" lengthAdjust="spacingAndGlyphs" fill-opacity="0.9">2025.11.05 00:00</text>
<rect x="638.34" y="525.9" width="47.4" height="6" fill="#d2d2d2"/>
<text x="640.64" y="530.8" textLength="42.8" lengthAdjust="spacingAndGlyphs" fill-opacity="0.9">2025.11.06 00:00</text>
<rect x="693.46" y="525.9" width="47.4" height="6" fill="#d2d2d2"/>
<text x="695.76" y="530.8" textLength="42.8" lengthAdjust="spacingAndGlyphs" fill-opacity="0.9">2025.11.07 00:00</text>
<rect x="748.58" y="525.9" width="47.4" height="6" fill="#d2d2d2"/>
<text x="750.88" y="530.8" textLength="42.8" lengthAdjust="spacingAndGlyphs" fill-opacity="0.9">2025.11.10 00:00</text>
</g>
<g id="borders">
<rect x="2" y="2.1" width="994" height="0.9" fill="#9eabbc"/>
<rect x="2" y="2.1" width="1" height="521.9" fill="#9eabbc"/>
<rect x="995" y="2.1" width="1" height="521.9" fill="#8b98ac"/>
<rect x="2" y="523" width="994" height="1" fill="#9eabbc"/>
<rect x="2" y="423" width="994" height="3" fill="url(#sep)"/>
<rect x="2" y="475.6" width="994" height="2.6" fill="url(#sep)"/>
</g>
</svg>
</body>
</html>
